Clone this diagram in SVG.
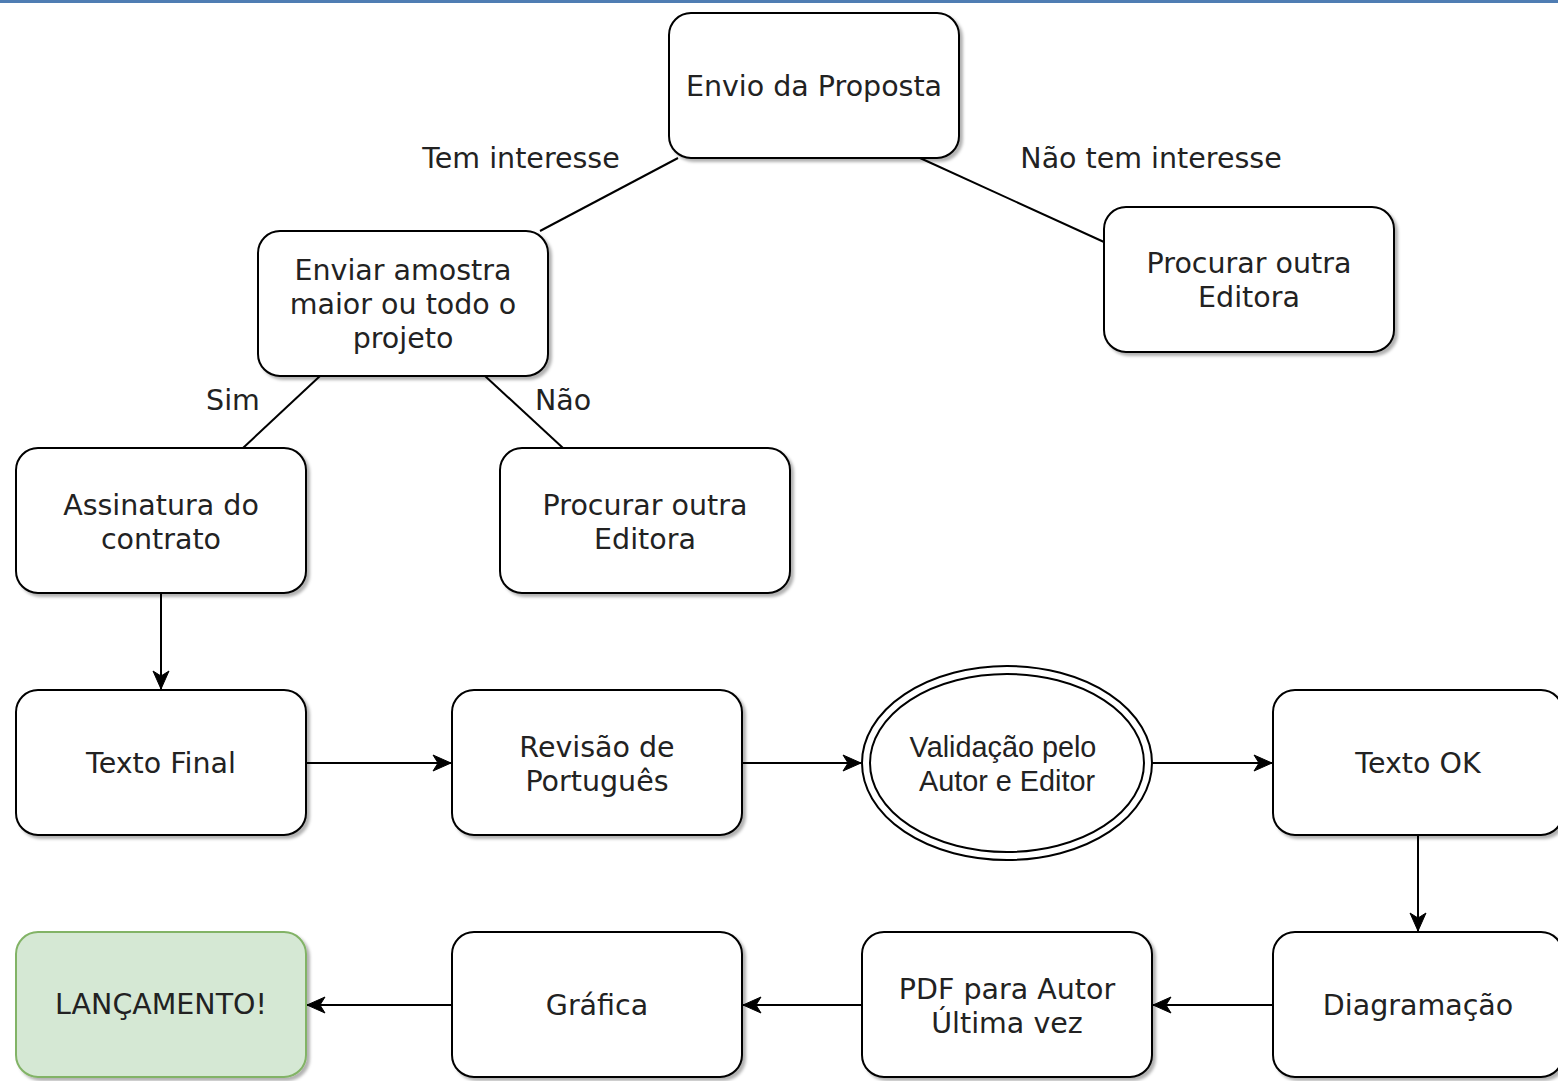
<svg xmlns="http://www.w3.org/2000/svg" width="1558" height="1081" viewBox="0 0 1558 1081">
<style>
.n{fill:#ffffff;stroke:#000000;stroke-width:2;filter:url(#sh)}
.g{fill:#d5e8d4;stroke:#82b366;stroke-width:2;filter:url(#sh)}
.t{font-family:"DejaVu Sans",Verdana,sans-serif;font-size:28.5px;fill:#222222;text-anchor:middle}
.a{font-family:"Liberation Sans",Arial,sans-serif;font-size:28.8px;fill:#222222;text-anchor:middle}
.e{fill:none;stroke:#000000;stroke-width:2}
.c{fill:none;stroke:#000000;stroke-width:2}
</style>
<defs>
<filter id="sh" x="-10%" y="-10%" width="130%" height="130%">
<feDropShadow dx="3" dy="3" stdDeviation="1.5" flood-color="#000000" flood-opacity="0.3"/>
</filter>
<marker id="ar" markerUnits="userSpaceOnUse" markerWidth="22" markerHeight="22" viewBox="0 0 22 22" refX="20" refY="11" orient="auto">
<path d="M2,3 L20,11 L2,19 L7,11 Z" fill="#000000" stroke="#000000" stroke-width="1"/>
</marker>
</defs>
<rect x="0" y="0" width="1558" height="3" fill="#4f7db3"/>
<g id="edges">
<path class="c" d="M678,158 L540,231"/>
<path class="c" d="M920,158 L1104,242"/>
<path class="c" d="M320,376 L243,448"/>
<path class="c" d="M485,376 L563,448"/>
<path class="c" d="M161,593 L161,689" marker-end="url(#ar)"/>
<path class="c" d="M306,763 L451,763" marker-end="url(#ar)"/>
<path class="c" d="M742,763 L861,763" marker-end="url(#ar)"/>
<path class="c" d="M1152,763 L1272,763" marker-end="url(#ar)"/>
<path class="c" d="M1418,835 L1418,931" marker-end="url(#ar)"/>
<path class="c" d="M1273,1005 L1153,1005" marker-end="url(#ar)"/>
<path class="c" d="M862,1005 L743,1005" marker-end="url(#ar)"/>
<path class="c" d="M452,1005 L307,1005" marker-end="url(#ar)"/>
<text class="t" x="521" y="168">Tem interesse</text>
<text class="t" x="1151" y="168">Não tem interesse</text>
<text class="t" x="233" y="410">Sim</text>
<text class="t" x="563" y="410">Não</text>
</g>
<g id="envio"><rect class="n" x="669" y="13" width="290" height="145" rx="22"/><text class="t" x="814" y="96">Envio da Proposta</text></g>
<g id="enviar"><rect class="n" x="258" y="231" width="290" height="145" rx="22"/><text class="t" x="403" y="280">Enviar amostra</text><text class="t" x="403" y="314">maior ou todo o</text><text class="t" x="403" y="348">projeto</text></g>
<g id="procurar1"><rect class="n" x="1104" y="207" width="290" height="145" rx="22"/><text class="t" x="1249" y="273">Procurar outra</text><text class="t" x="1249" y="307">Editora</text></g>
<g id="assinatura"><rect class="n" x="16" y="448" width="290" height="145" rx="22"/><text class="t" x="161" y="515">Assinatura do</text><text class="t" x="161" y="549">contrato</text></g>
<g id="procurar2"><rect class="n" x="500" y="448" width="290" height="145" rx="22"/><text class="t" x="645" y="515">Procurar outra</text><text class="t" x="645" y="549">Editora</text></g>
<g id="textofinal"><rect class="n" x="16" y="690" width="290" height="145" rx="22"/><text class="t" x="161" y="773">Texto Final</text></g>
<g id="revisao"><rect class="n" x="452" y="690" width="290" height="145" rx="22"/><text class="t" x="597" y="757">Revisão de</text><text class="t" x="597" y="791">Português</text></g>
<g id="validacao"><ellipse cx="1007" cy="763" rx="145" ry="97" fill="#ffffff" stroke="#000000" stroke-width="2"/><ellipse class="e" cx="1007" cy="763" rx="137" ry="89"/><text class="a" x="1003" y="757">Validação pelo</text><text class="a" x="1007" y="791">Autor e Editor</text></g>
<g id="textook"><rect class="n" x="1273" y="690" width="290" height="145" rx="22"/><text class="t" x="1418" y="773">Texto OK</text></g>
<g id="diagramacao"><rect class="n" x="1273" y="932" width="290" height="145" rx="22"/><text class="t" x="1418" y="1015">Diagramação</text></g>
<g id="pdf"><rect class="n" x="862" y="932" width="290" height="145" rx="22"/><text class="t" x="1007" y="999">PDF para Autor</text><text class="t" x="1007" y="1033">Última vez</text></g>
<g id="grafica"><rect class="n" x="452" y="932" width="290" height="145" rx="22"/><text class="t" x="597" y="1015">Gráfica</text></g>
<g id="lancamento"><rect class="g" x="16" y="932" width="290" height="145" rx="22"/><text class="t" x="161" y="1014">LANÇAMENTO!</text></g>
</svg>
